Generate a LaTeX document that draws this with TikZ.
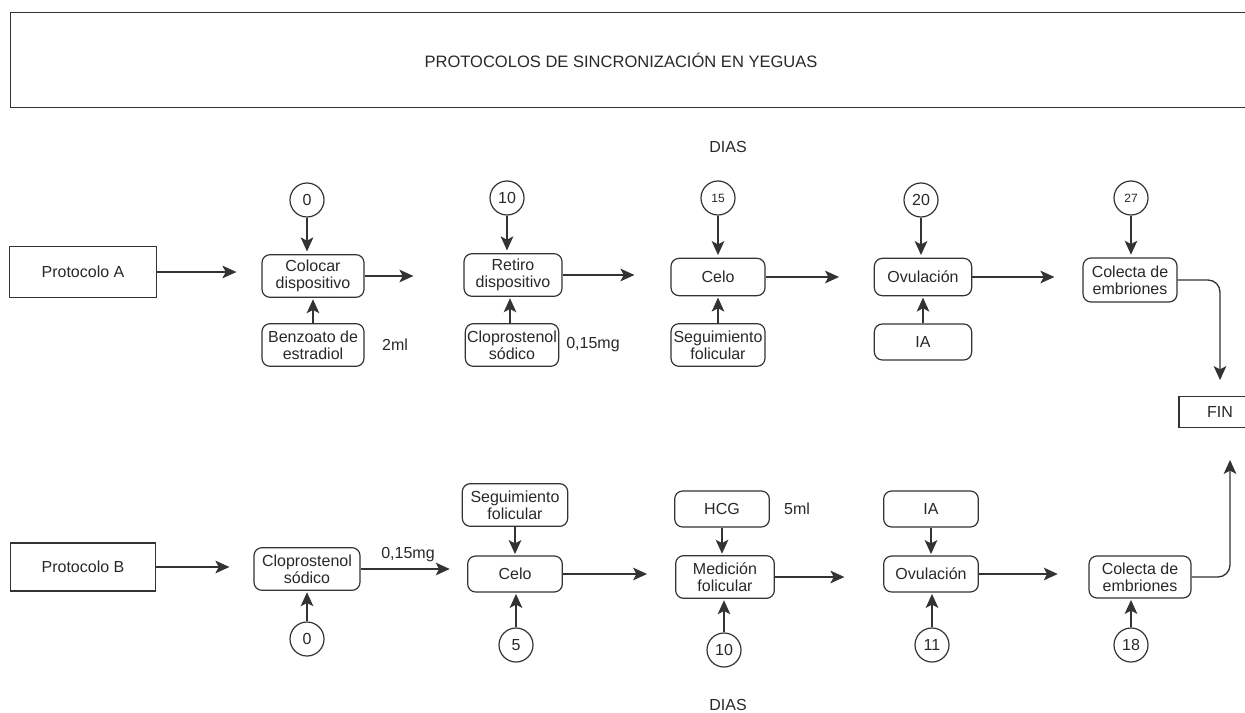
\documentclass[tikz,border=0pt]{standalone}
\usepackage{fontspec}
\setmainfont{Liberation Sans}
\usepackage{tikz}
\usetikzlibrary{arrows.meta,shapes,positioning}
\usepackage{xcolor}
\definecolor{dfline}{RGB}{51,51,51}
\definecolor{dftext}{RGB}{40,40,40}
\tikzstyle{arrow} = [line width=1pt,->,>={Stealth[length=10.5pt,width=9.5pt,inset=2.5pt]},color=dfline]
\tikzstyle{paso} = [rectangle, rounded corners=6pt, align=center, draw=dfline, line width=0.9pt, text=dftext, inner sep=1pt, font=\fontsize{12}{12.75}\selectfont]
\tikzstyle{caja} = [rectangle, align=center, draw=dfline, line width=0.9pt, text=dftext, font=\fontsize{12}{12.75}\selectfont]
\tikzstyle{dia} = [circle, draw=dfline, line width=0.9pt, minimum size=25.5pt, inner sep=0pt, text=dftext, font=\fontsize{12}{12.75}\selectfont]
\tikzstyle{etiqueta} = [text=dftext, font=\fontsize{12}{12.75}\selectfont]

\begin{document}
\begin{tikzpicture}[x=0.75pt, y=-0.75pt]
\useasboundingbox (0,0) rectangle (1245,713);
\clip (0,0) rectangle (1245,713);
% Titulo
\node (titulo) [caja, minimum width=938pt, minimum height=71pt, anchor=north west] at (10,12) {};
\node (tituloTxt) [etiqueta, font=\fontsize{12.4}{13}\selectfont] at (621,60) {PROTOCOLOS DE SINCRONIZACIÓN EN YEGUAS};
\node (diasA) [etiqueta] at (728,147) {DIAS};
\node (diasB) [etiqueta] at (728,705) {DIAS};

% Protocolo A
\node (protA) [caja, minimum width=110pt, minimum height=38pt] at (83,272) {Protocolo A};
\node (colocar) [paso, minimum width=76.5pt, minimum height=32pt] at (313,276) {Colocar\\dispositivo};
\node (benzoato) [paso, minimum width=76.5pt, minimum height=32pt] at (313,345) {Benzoato de\\estradiol};
\node (retiro) [paso, minimum width=73.5pt, minimum height=32pt] at (513,275) {Retiro\\dispositivo};
\node (clopA) [paso, minimum width=70pt, minimum height=32pt] at (512,345) {Cloprostenol\\sódico};
\node (celoA) [paso, minimum width=70.5pt, minimum height=28pt] at (718,277) {Celo};
\node (seguiA) [paso, minimum width=70.5pt, minimum height=32pt] at (718,345) {Seguimiento\\folicular};
\node (ovulA) [paso, minimum width=73pt, minimum height=28pt] at (923,277) {Ovulación};
\node (iaA) [paso, minimum width=73pt, minimum height=27pt] at (923,342) {IA};
\node (colectaA) [paso, minimum width=70.5pt, minimum height=33pt] at (1130,280) {Colecta de\\embriones};
\node (fin) [caja, minimum width=61.5pt, minimum height=23pt] at (1220,412) {FIN};
\node (dosisA1) [etiqueta] at (395,345) {2ml};
\node (dosisA2) [etiqueta] at (593,345) {0,15mg};

% Dias A
\node (dA0) [dia] at (307,200) {0};
\node (dA10) [dia] at (507,198) {10};
\node (dA15) [dia, font=\fontsize{9}{10}\selectfont] at (718,198) {15};
\node (dA20) [dia] at (921,200) {20};
\node (dA27) [dia, font=\fontsize{9}{10}\selectfont] at (1131,198) {27};

% Protocolo B
\node (protB) [caja, minimum width=109pt, minimum height=36pt] at (83,567) {Protocolo B};
\node (clopB) [paso, minimum width=79.5pt, minimum height=32pt] at (307,569) {Cloprostenol\\sódico};
\node (seguiB) [paso, minimum width=79pt, minimum height=32pt] at (515,505) {Seguimiento\\folicular};
\node (celoB) [paso, minimum width=71pt, minimum height=27pt] at (515,574) {Celo};
\node (hcg) [paso, minimum width=71pt, minimum height=27pt] at (722,509) {HCG};
\node (medicion) [paso, minimum width=74pt, minimum height=32pt] at (725,577) {Medición\\folicular};
\node (iaB) [paso, minimum width=71pt, minimum height=27pt] at (931,509) {IA};
\node (ovulB) [paso, minimum width=71pt, minimum height=27pt] at (931,574) {Ovulación};
\node (colectaB) [paso, minimum width=76.5pt, minimum height=31.5pt] at (1140,577) {Colecta de\\embriones};
\node (dosisB1) [etiqueta] at (408,555) {0,15mg};
\node (dosisB2) [etiqueta] at (797,509) {5ml};

% Dias B
\node (dB0) [dia] at (307,639) {0};
\node (dB5) [dia] at (516,645) {5};
\node (dB10) [dia] at (724,650) {10};
\node (dB11) [dia] at (932,645) {11};
\node (dB18) [dia] at (1131,645) {18};

% Flechas A
\draw[arrow, shorten >=18.75pt] (protA.east) -- (protA.east -| colocar.west);
\draw[arrow, shorten >=37.5pt] (colocar.east) -- (colocar.east -| retiro.west);
\draw[arrow, shorten >=27pt] (retiro.east) -- (retiro.east -| celoA.west);
\draw[arrow, shorten >=26pt] (celoA.east) -- (celoA.east -| ovulA.west);
\draw[arrow, shorten >=21pt] (ovulA.east) -- (ovulA.east -| colectaA.west);
\draw[arrow, shorten >=2pt] (dA0) -- (dA0 |- colocar.north);
\draw[arrow, shorten >=2pt] (dA10) -- (dA10 |- retiro.north);
\draw[arrow, shorten >=2pt] (dA15) -- (dA15 |- celoA.north);
\draw[arrow, shorten >=2pt] (dA20) -- (dA20 |- ovulA.north);
\draw[arrow, shorten >=2pt] (dA27) -- (dA27 |- colectaA.north);
\draw[arrow, shorten >=1pt] (benzoato) -- (colocar);
\draw[arrow, shorten >=1pt] (clopA.north -| 510,0) -- (retiro.south -| 510,0);
\draw[arrow, shorten >=1pt] (seguiA) -- (celoA);
\draw[arrow, shorten >=1pt] (iaA) -- (ovulA);
\draw[arrow, rounded corners=9pt, shorten >=12pt] (colectaA.east) -| (fin.north);

% Flechas B
\draw[arrow, shorten >=18pt] (protB.east) -- (protB.east -| clopB.west);
\draw[arrow, shorten >=13pt] (clopB.east) -- (clopB.east -| celoB.west);
\draw[arrow, shorten >=21pt] (celoB.east) -- (celoB.east -| medicion.west);
\draw[arrow, shorten >=29pt] (medicion.east) -- (medicion.east -| ovulB.west);
\draw[arrow, shorten >=23pt] (ovulB.east) -- (ovulB.east -| colectaB.west);
\draw[arrow, shorten >=1pt] (seguiB) -- (celoB);
\draw[arrow, shorten >=1pt] (hcg) -- (hcg |- medicion.north);
\draw[arrow, shorten >=1pt] (iaB) -- (ovulB);
\draw[arrow, shorten >=1pt] (dB0) -- (dB0 |- clopB.south);
\draw[arrow, shorten >=1pt] (dB5) -- (dB5 |- celoB.south);
\draw[arrow, shorten >=1pt] (dB10) -- (dB10 |- medicion.south);
\draw[arrow, shorten >=1pt] (dB11) -- (dB11 |- ovulB.south);
\draw[arrow, shorten >=1pt] (dB18) -- (dB18 |- colectaB.south);
\draw[arrow, rounded corners=9pt, shorten >=24pt] (colectaB.east) -| (fin.south -| 1230,0);
\end{tikzpicture}
\end{document}
